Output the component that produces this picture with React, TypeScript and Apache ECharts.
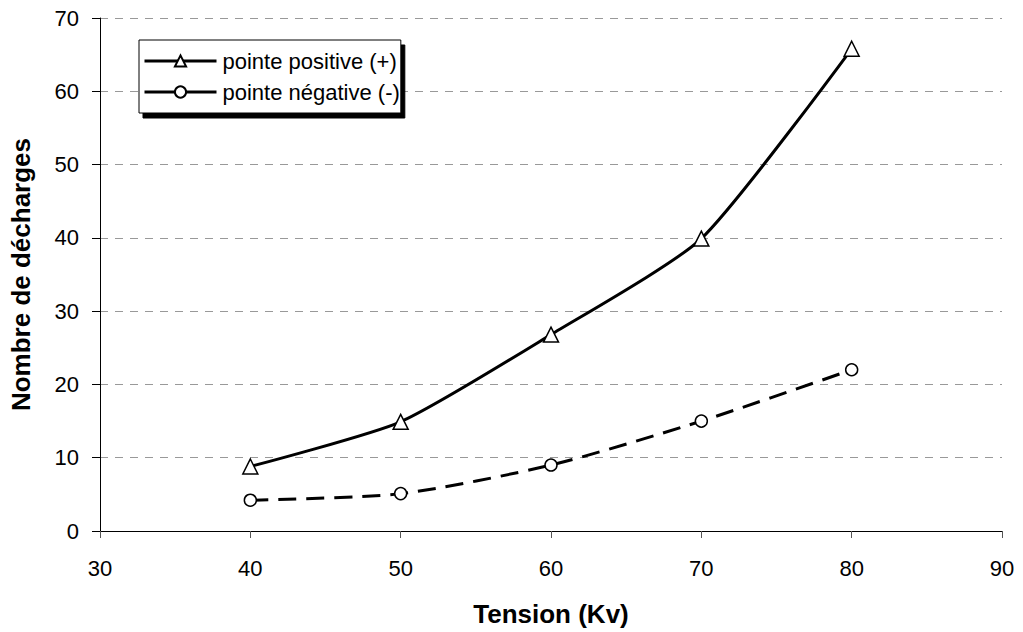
import React, { useEffect, useRef } from "react";
import * as echarts from "echarts";

const tension = [40, 50, 60, 70, 80];
const positive = [8.8, 14.9, 26.8, 39.9, 65.8];
const negative = [4.2, 5.1, 9.0, 15.0, 22.0];
const seriesNames = ["pointe positive (+)", "pointe négative (-)"];
const xTitle = "Tension (Kv)";
const yTitle = "Nombre de décharges";

export default function App() {
  const ref = useRef<HTMLDivElement>(null);
  useEffect(() => {
    const chart = echarts.init(ref.current!, undefined, { renderer: "svg" });
    const font = "Liberation Sans";
    chart.setOption({
      animation: false,
      backgroundColor: "#fff",
      textStyle: { fontFamily: font },
      grid: { left: 98, right: 21, top: 18, bottom: 100 },
      legend: {
        orient: "vertical",
        left: 139,
        top: 40,
        padding: [10, 1, 10, 4],
        itemWidth: 72,
        itemHeight: 14,
        itemGap: 9,
        backgroundColor: "#fff",
        borderColor: "#000",
        borderWidth: 1,
        shadowColor: "#000",
        shadowOffsetX: 4,
        shadowOffsetY: 5,
        shadowBlur: 0,
        lineStyle: { type: "solid", width: 3 },
        textStyle: { fontSize: 22, color: "#000", fontFamily: font, padding: [0, 0, 0, 1] },
        data: seriesNames,
      },
      xAxis: {
        type: "value",
        min: 30,
        max: 90,
        interval: 10,
        name: xTitle,
        nameLocation: "middle",
        nameGap: 70,
        nameTextStyle: { fontSize: 26, fontWeight: "bold", color: "#000", fontFamily: font },
        axisLine: { lineStyle: { color: "#000", width: 1 } },
        axisTick: { show: true, length: 7, lineStyle: { color: "#555" } },
        axisLabel: { fontSize: 22, color: "#000", margin: 26, fontFamily: font },
        splitLine: { show: false },
      },
      yAxis: {
        type: "value",
        min: 0,
        max: 70,
        interval: 10,
        name: yTitle,
        nameLocation: "middle",
        nameGap: 66,
        nameRotate: 90,
        nameTextStyle: { fontSize: 26, fontWeight: "bold", color: "#000", fontFamily: font },
        axisLine: { show: true, lineStyle: { color: "#000", width: 1 } },
        axisTick: { show: true, length: 8, lineStyle: { color: "#000" } },
        axisLabel: { fontSize: 22, color: "#000", margin: 21, fontFamily: font },
        splitLine: { show: true, lineStyle: { color: "#999", type: [8, 7], width: 1 } },
      },
      series: [
        {
          name: seriesNames[0],
          type: "line",
          smooth: 0.2,
          data: tension.map((x, i) => [x, positive[i]]),
          symbol: "triangle",
          symbolSize: 15,
          lineStyle: { color: "#000", width: 3 },
          itemStyle: { color: "#fff", borderColor: "#000", borderWidth: 1.5 },
        },
        {
          name: seriesNames[1],
          type: "line",
          smooth: 0.25,
          data: tension.map((x, i) => [x, negative[i]]),
          symbol: "circle",
          symbolSize: 12,
          lineStyle: { color: "#000", width: 3, type: [18, 10] },
          itemStyle: { color: "#fff", borderColor: "#000", borderWidth: 1.5 },
        },
      ],
    });
    return () => chart.dispose();
  }, []);
  return (
    <div
      ref={ref}
      style={{ position: "fixed", left: 0, top: 0, width: 1023, height: 632 }}
    />
  );
}
